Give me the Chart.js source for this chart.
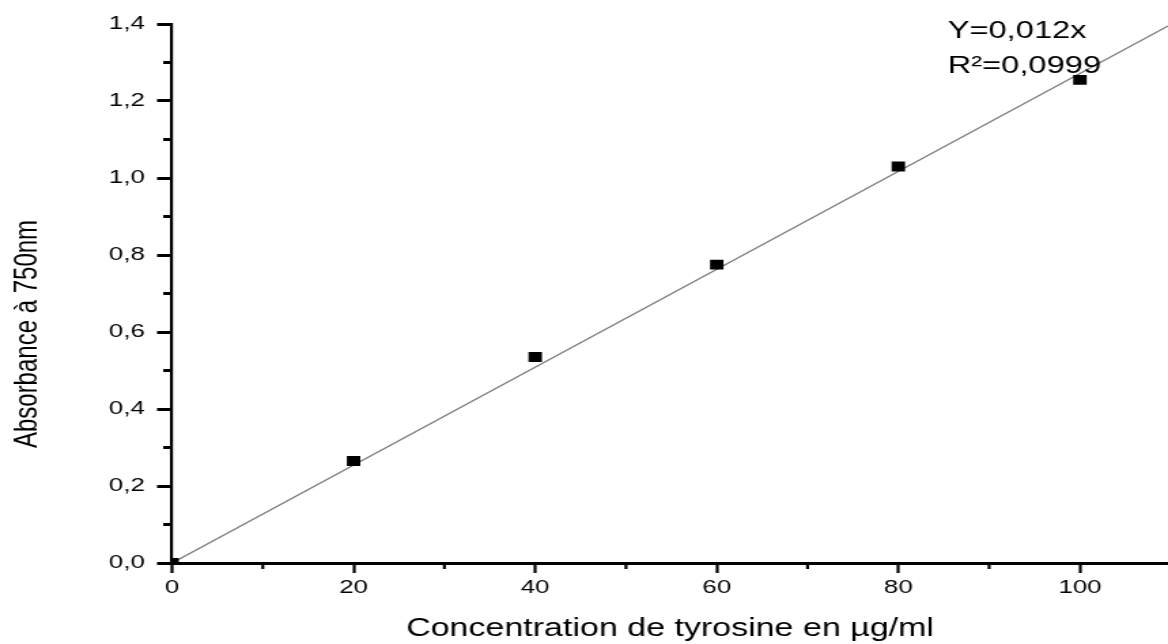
<!DOCTYPE html>
<html>
<head>
<meta charset="utf-8">
<script src="https://cdn.jsdelivr.net/npm/chart.js@4"></script>
<style>
  html, body { margin: 0; padding: 0; background: #fff; overflow: hidden; }
</style>
</head>
<body>
<!-- the original picture is stretched sideways, so the canvas is too -->
<canvas id="chart" width="859" height="644" style="display:block;width:1168px;height:644px"></canvas>
<script>
// Données
const concentrations = [0, 20, 40, 60, 80, 100];
const absorbances = [0, 0.265, 0.535, 0.775, 1.03, 1.255];

// Droite d'étalonnage
const fitX = [0, 109.7];
const fitY = [0, 1.395];

const xTitle = "Concentration de tyrosine en µg/ml";
const yTitle = "Absorbance à 750nm";
const equation = ["Y=0,012x", "R²=0,0999"];

const FONT = "'Liberation Sans', Arial, sans-serif";

const isMajorX = v => v % 20 === 0 && v <= 100;
const isMajorY = v => Math.round(v * 10) % 2 === 0;

// petites graduations, titre Y et équation
const extras = {
  id: 'extras',
  afterDraw(chart) {
    const { ctx, chartArea } = chart;
    const x = chart.scales.x, y = chart.scales.y;
    ctx.save();
    ctx.strokeStyle = '#000';

    ctx.lineWidth = 2.2;
    x.ticks.forEach(t => {
      if (isMajorX(t.value) || t.value > 100) return;
      const px = x.getPixelForValue(t.value);
      ctx.beginPath();
      ctx.moveTo(px, chartArea.bottom);
      ctx.lineTo(px, chartArea.bottom + 6);
      ctx.stroke();
    });

    ctx.lineWidth = 3;
    y.ticks.forEach(t => {
      if (isMajorY(t.value)) return;
      const py = y.getPixelForValue(t.value);
      ctx.beginPath();
      ctx.moveTo(chartArea.left - 6.5, py);
      ctx.lineTo(chartArea.left, py);
      ctx.stroke();
    });

    ctx.fillStyle = '#000';
    ctx.font = '24px ' + FONT;
    ctx.textAlign = 'center';
    ctx.textBaseline = 'middle';
    ctx.translate(20, 334);
    ctx.rotate(-Math.PI / 2);
    ctx.fillText(yTitle, 0, 0);
    ctx.restore();

    ctx.save();
    ctx.fillStyle = '#000';
    ctx.font = '24px ' + FONT;
    ctx.textAlign = 'left';
    ctx.textBaseline = 'alphabetic';
    ctx.fillText(equation[0], 697, 38);
    ctx.fillText(equation[1], 697, 73);
    ctx.restore();
  }
};

new Chart(document.getElementById('chart'), {
  type: 'scatter',
  data: {
    datasets: [{
      label: 'Mesures',
      data: concentrations.map((c, i) => ({ x: c, y: absorbances[i] })),
      backgroundColor: '#000',
      borderColor: '#000',
      pointStyle: 'rect',
      pointRadius: 7,
      borderWidth: 0
    }, {
      label: 'Régression',
      type: 'line',
      data: fitX.map((c, i) => ({ x: c, y: fitY[i] })),
      borderColor: '#7a7a7a',
      borderWidth: 1.3,
      pointRadius: 0,
      fill: false
    }]
  },
  options: {
    responsive: false,
    animation: false,
    devicePixelRatio: 1,
    layout: { autoPadding: false, padding: { top: 24, right: 0, left: 0, bottom: 0 } },
    plugins: { legend: { display: false }, tooltip: { enabled: false } },
    scales: {
      x: {
        type: 'linear',
        min: 0,
        max: 109.7,
        afterFit: s => { s.height = 81; },
        ticks: {
          stepSize: 10,
          includeBounds: false,
          autoSkip: false,
          maxRotation: 0,
          padding: 3,
          color: '#000',
          font: { family: FONT, size: 19 },
          callback: v => isMajorX(v) ? String(v) : ''
        },
        grid: {
          drawOnChartArea: false,
          drawTicks: true,
          tickLength: 10,
          tickWidth: 2.2,
          tickColor: c => isMajorX(c.tick.value) ? '#000' : 'rgba(0,0,0,0)'
        },
        border: { display: true, color: '#000', width: 3 },
        title: {
          display: true,
          text: xTitle,
          color: '#000',
          font: { family: FONT, size: 25 },
          padding: 0
        }
      },
      y: {
        min: 0,
        max: 1.4,
        afterFit: s => { s.width = 126.5; },
        ticks: {
          stepSize: 0.1,
          autoSkip: false,
          padding: 9,
          color: '#000',
          font: { family: FONT, size: 19 },
          callback: v => isMajorY(v) ? (Math.round(v * 10) / 10).toFixed(1).replace('.', ',') : ''
        },
        grid: {
          drawOnChartArea: false,
          drawTicks: true,
          tickLength: 11,
          tickWidth: 3,
          tickColor: c => isMajorY(c.tick.value) ? '#000' : 'rgba(0,0,0,0)'
        },
        border: { display: true, color: '#000', width: 2.2 }
      }
    }
  },
  plugins: [extras]
});
</script>
</body>
</html>
